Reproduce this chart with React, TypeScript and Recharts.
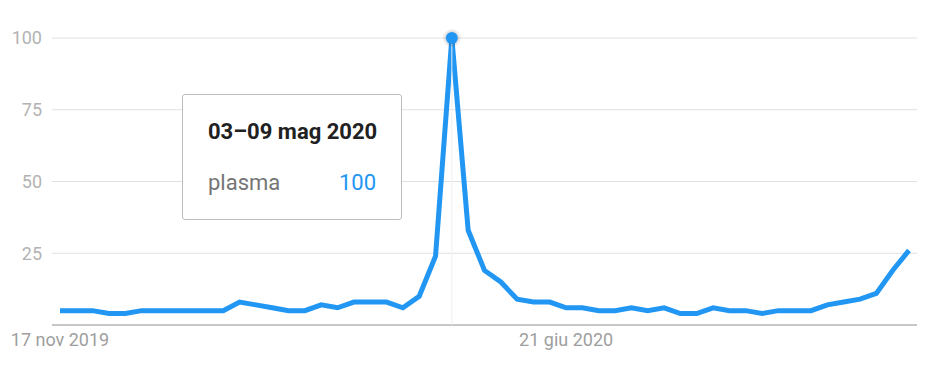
import { LineChart, Line, XAxis, YAxis, CartesianGrid, Tooltip } from 'recharts';

const weeks = [
  '17 nov 2019', '24 nov 2019', '1 dic 2019', '8 dic 2019', '15 dic 2019', '22 dic 2019', '29 dic 2019',
  '5 gen 2020', '12 gen 2020', '19 gen 2020', '26 gen 2020', '2 feb 2020', '9 feb 2020', '16 feb 2020',
  '23 feb 2020', '1 mar 2020', '8 mar 2020', '15 mar 2020', '22 mar 2020', '29 mar 2020', '5 apr 2020',
  '12 apr 2020', '19 apr 2020', '26 apr 2020', '3 mag 2020', '10 mag 2020', '17 mag 2020', '24 mag 2020',
  '31 mag 2020', '7 giu 2020', '14 giu 2020', '21 giu 2020', '28 giu 2020', '5 lug 2020', '12 lug 2020',
  '19 lug 2020', '26 lug 2020', '2 ago 2020', '9 ago 2020', '16 ago 2020', '23 ago 2020', '30 ago 2020',
  '6 set 2020', '13 set 2020', '20 set 2020', '27 set 2020', '4 ott 2020', '11 ott 2020', '18 ott 2020',
  '25 ott 2020', '1 nov 2020', '8 nov 2020', '15 nov 2020',
];

const plasma = [
  5, 5, 5, 4, 4, 5, 5, 5, 5, 5, 5,
  8, 7, 6, 5, 5, 7, 6, 8, 8, 8,
  6, 10, 24, 100, 33, 19, 15, 9, 8, 8,
  6, 6, 5, 5, 6, 5, 6, 4, 4, 6,
  5, 5, 4, 5, 5, 5, 7, 8, 9, 11, 19, 26,
];

const xTicks = ['17 nov 2019', '21 giu 2020'];
const yTicks = [25, 50, 75, 100];
const activeIndex = 24;
const activeRange = '03–09 mag 2020';

const data = weeks.map((week, i) => ({ week, plasma: plasma[i] }));

const BLUE = '#2196f3';

function TrendTooltip({ payload }: any) {
  const value = payload && payload.length ? payload[0].value : plasma[activeIndex];
  return (
    <div
      style={{
        width: 218,
        height: 124,
        background: '#fff',
        border: '1px solid #bdbdbd',
        borderRadius: 3,
        boxSizing: 'content-box',
        fontFamily: 'Roboto',
        position: 'relative',
      }}
    >
      <div style={{ position: 'absolute', left: 25, top: 24, fontSize: 22, fontWeight: 700, color: '#212121', whiteSpace: 'nowrap' }}>
        {activeRange}
      </div>
      <div style={{ position: 'absolute', left: 25, top: 75, fontSize: 22, color: '#757575' }}>plasma</div>
      <div style={{ position: 'absolute', right: 25, top: 75, fontSize: 22, color: BLUE }}>{value}</div>
    </div>
  );
}

function PeakDot({ cx, cy }: any) {
  if (cx == null || cy == null) return null;
  return (
    <g>
      <circle cx={cx} cy={cy} r={9} fill="rgba(0,0,0,0.06)" />
      <circle cx={cx} cy={cy} r={7.5} fill="rgba(0,0,0,0.06)" />
      <circle cx={cx} cy={cy} r={6} fill={BLUE} />
    </g>
  );
}

export default function App() {
  return (
    <div style={{ position: 'absolute', left: 0, top: 0, width: 941, height: 377, background: '#fff' }}>
      <LineChart width={941} height={377} data={data} margin={{ top: 38, right: 24, left: 0, bottom: 0 }}>
        <CartesianGrid vertical={false} stroke="#e0e0e0" strokeWidth={1} />
        <XAxis
          dataKey="week"
          ticks={xTicks}
          interval={0}
          height={52}
          padding={{ left: 8, right: 8 }}
          tickLine={false}
          axisLine={{ stroke: '#9e9e9e', strokeWidth: 1 }}
          tick={{ fill: '#9e9e9e', fontSize: 18, fontFamily: 'Roboto' }}
        />
        <YAxis
          domain={[0, 100]}
          ticks={yTicks}
          width={52}
          axisLine={false}
          tickLine={false}
          tickMargin={4}
          tick={{ fill: '#b3b3b3', fontSize: 18, fontFamily: 'Roboto' }}
        />
        <Tooltip
          active
          defaultIndex={activeIndex}
          position={{ x: 182, y: 94 }}
          cursor={{ stroke: '#eeeeee', strokeWidth: 1 }}
          content={<TrendTooltip />}
          isAnimationActive={false}
          wrapperStyle={{ outline: 'none' }}
        />
        <Line
          type="linear"
          dataKey="plasma"
          stroke={BLUE}
          strokeWidth={5}
          dot={false}
          activeDot={<PeakDot />}
          isAnimationActive={false}
        />
      </LineChart>
    </div>
  );
}
